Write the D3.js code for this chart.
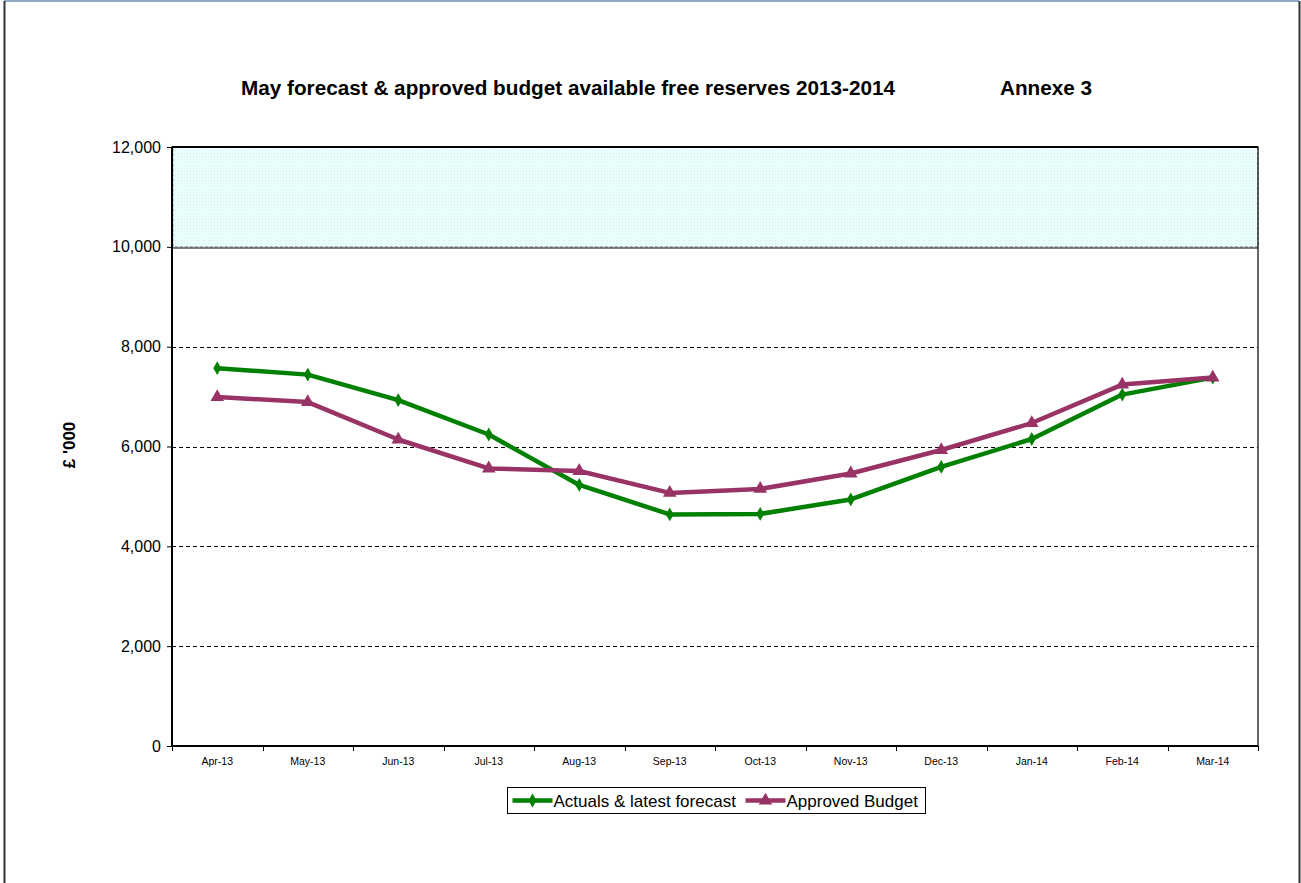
<!DOCTYPE html>
<head>
  <meta charset="utf-8">
  <script src="https://d3js.org/d3.v7.min.js"></script>
  <style>
    body { margin:0; background:#fff; font-family: "Liberation Sans", Arial, sans-serif; }
  </style>
</head>
<body>
  <script>
    var months = ["Apr-13", "May-13", "Jun-13", "Jul-13", "Aug-13", "Sep-13",
                  "Oct-13", "Nov-13", "Dec-13", "Jan-14", "Feb-14", "Mar-14"];
    var actuals = [7570, 7440, 6930, 6240, 5230, 4640, 4650, 4940, 5590, 6150, 7040, 7380];
    var budget = [6990, 6890, 6140, 5560, 5510, 5070, 5150, 5460, 5930, 6470, 7240, 7380];
    var yTicks = [0, 2000, 4000, 6000, 8000, 10000, 12000];
    var bandLow = 10000, bandHigh = 12000;

    var series = [
      { name: "Actuals & latest forecast", values: actuals, color: "#008000", symbol: d3.symbolDiamond, size: 55 },
      { name: "Approved Budget", values: budget, color: "#993366", symbol: d3.symbolTriangle, size: 80 }
    ];

    var W = 1301, H = 883;
    var margin = { top: 147, right: 43, bottom: 137, left: 172 };
    var width = W - margin.left - margin.right;
    var height = H - margin.top - margin.bottom;

    var root = d3.select("body").append("svg")
      .attr("width", W)
      .attr("height", H);

    // outer frame
    root.append("line").attr("x1", 4).attr("x2", 1299).attr("y1", 1).attr("y2", 1)
      .style("stroke", "#8fa9c6").style("stroke-width", 2);
    root.append("line").attr("x1", 4.5).attr("x2", 4.5).attr("y1", 1).attr("y2", H)
      .style("stroke", "#333").style("stroke-width", 2);
    root.append("line").attr("x1", 1299.5).attr("x2", 1299.5).attr("y1", 1).attr("y2", H)
      .style("stroke", "#333").style("stroke-width", 2);

    root.append("text")
      .text("May forecast & approved budget available free reserves 2013-2014")
      .attr("x", 241).attr("y", 95)
      .attr("textLength", 654).attr("lengthAdjust", "spacingAndGlyphs")
      .style("font-size", "20px").style("font-weight", "bold");
    root.append("text")
      .text("Annexe 3")
      .attr("x", 1000).attr("y", 95)
      .attr("textLength", 92).attr("lengthAdjust", "spacingAndGlyphs")
      .style("font-size", "20px").style("font-weight", "bold");

    var svg = root.append("g")
      .attr("transform", "translate(" + margin.left + "," + margin.top + ")");

    var x = d3.scaleBand().domain(months).range([0, width]);
    var y = d3.scaleLinear().domain([0, 12000]).range([height, 0]);

    // shaded band
    var defs = root.append("defs");
    var pat = defs.append("pattern").attr("id", "dots")
      .attr("width", 3).attr("height", 3).attr("patternUnits", "userSpaceOnUse");
    pat.append("rect").attr("width", 3).attr("height", 3).style("fill", "#eafefe");
    pat.append("rect").attr("width", 1).attr("height", 1).style("fill", "#d6f0f0");

    svg.append("rect")
      .attr("x", 1).attr("y", y(bandHigh))
      .attr("width", width - 1).attr("height", y(bandLow) - y(bandHigh))
      .style("fill", "url(#dots)")
      .style("stroke", "#888").style("stroke-dasharray", "3,2");

    // gridlines
    svg.append("g")
      .selectAll("line")
      .data(yTicks.filter(function(d) { return d > 0 && d < bandLow; }))
      .enter().append("line")
      .attr("x1", 0).attr("x2", width)
      .attr("y1", function(d) { return Math.round(y(d)) + 0.5; })
      .attr("y2", function(d) { return Math.round(y(d)) + 0.5; })
      .style("stroke", "#000").style("stroke-dasharray", "4,3");

    svg.append("line")
      .attr("x1", 0).attr("x2", width)
      .attr("y1", Math.round(y(bandLow)) + 1).attr("y2", Math.round(y(bandLow)) + 1)
      .style("stroke", "#000").style("stroke-width", 1.2);

    // plot frame
    svg.append("rect")
      .attr("x", 0).attr("y", 0).attr("width", width).attr("height", height)
      .style("fill", "none").style("stroke", "#000").style("stroke-width", 1.2);
    svg.append("line").attr("x1", 0).attr("x2", width).attr("y1", 0).attr("y2", 0)
      .style("stroke", "#000").style("stroke-width", 2);

    // y axis
    var yAxis = svg.append("g")
      .call(d3.axisLeft(y).tickValues(yTicks).tickSize(5).tickPadding(6)
        .tickFormat(d3.format(",")));
    yAxis.select(".domain").style("stroke-width", 2).attr("d", "M0," + height + "V0");
    yAxis.selectAll("text").style("font-size", "16px").style("font-family", "Liberation Sans, Arial, sans-serif");

    // x axis
    var xAxis = svg.append("g")
      .attr("transform", "translate(0," + height + ")")
      .call(d3.axisBottom(x).tickSize(0).tickPadding(12));
    xAxis.select(".domain").style("stroke-width", 2).attr("d", "M0,0H" + width);
    xAxis.selectAll("text").style("font-size", "10.5px").style("font-family", "Liberation Sans, Arial, sans-serif");
    xAxis.selectAll(".sep")
      .data(d3.range(months.length + 1))
      .enter().append("line")
      .attr("class", "sep")
      .attr("x1", function(i) { return Math.round(i * x.step()) + 0.5; })
      .attr("x2", function(i) { return Math.round(i * x.step()) + 0.5; })
      .attr("y1", 0).attr("y2", 5)
      .style("stroke", "#000");

    root.append("text")
      .text("£ '000")
      .attr("transform", "translate(75,445) rotate(-90)")
      .attr("text-anchor", "middle")
      .style("font-size", "17px").style("font-weight", "bold");

    // lines
    var line = d3.line()
      .x(function(d, i) { return x(months[i]) + x.bandwidth() / 2; })
      .y(function(d) { return y(d); });

    series.forEach(function(s) {
      svg.append("path")
        .datum(s.values)
        .attr("d", line)
        .style("fill", "none")
        .style("stroke", s.color)
        .style("stroke-width", 4.5)
        .style("stroke-linejoin", "round");
      svg.selectAll(null)
        .data(s.values)
        .enter().append("path")
        .attr("d", d3.symbol().type(s.symbol).size(s.size))
        .attr("transform", function(d, i) {
          return "translate(" + (x(months[i]) + x.bandwidth() / 2) + "," + y(d) + ")";
        })
        .style("fill", s.color);
    });

    // legend
    var legend = root.append("g").attr("transform", "translate(507.5,787.5)");
    legend.append("rect").attr("width", 418).attr("height", 26)
      .style("fill", "#fff").style("stroke", "#000");
    var items = [{ s: series[0], x: 5, w: 40 }, { s: series[1], x: 238, w: 40 }];
    items.forEach(function(it) {
      var g = legend.append("g").attr("transform", "translate(" + it.x + ",13)");
      g.append("line").attr("x1", 0).attr("x2", it.w).attr("y1", 0).attr("y2", 0)
        .style("stroke", it.s.color).style("stroke-width", 4.5);
      g.append("path").attr("d", d3.symbol().type(it.s.symbol).size(it.s.size))
        .attr("transform", "translate(" + (it.w / 2) + ",0)")
        .style("fill", it.s.color);
      g.append("text").text(it.s.name)
        .attr("x", it.w + 1).attr("y", 6)
        .style("font-size", "17px");
    });
  </script>
</body>
